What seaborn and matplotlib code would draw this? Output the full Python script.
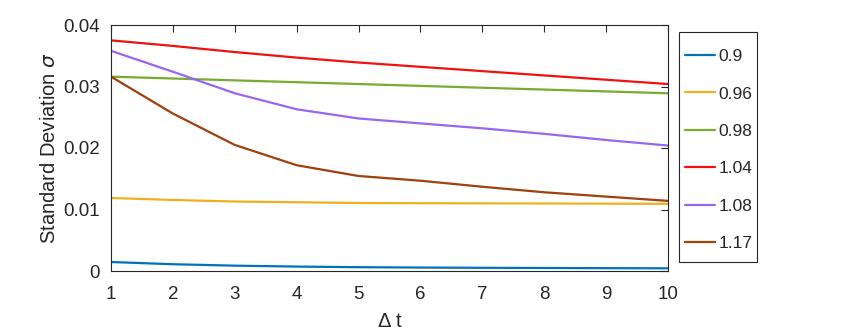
import numpy as np
import pandas as pd
import matplotlib
matplotlib.use('Agg')
import matplotlib.pyplot as plt
from matplotlib.patches import Rectangle
import seaborn as sns

# Data
dt = [1, 2, 3, 4, 5, 6, 7, 8, 9, 10]
labels = ['0.9', '0.96', '0.98', '1.04', '1.08', '1.17']
s_090 = [0.00146, 0.00110, 0.00087, 0.00072, 0.00062, 0.00056, 0.00052, 0.00049, 0.00046, 0.00044]
s_096 = [0.01187, 0.01155, 0.01130, 0.01118, 0.01106, 0.01102, 0.01100, 0.01098, 0.01095, 0.01092]
s_098 = [0.0316, 0.0313, 0.0310, 0.0307, 0.0304, 0.0301, 0.0298, 0.0295, 0.0292, 0.0289]
s_104 = [0.0375, 0.0366, 0.0356, 0.0347, 0.0339, 0.0332, 0.0325, 0.0318, 0.0311, 0.0304]
s_108 = [0.0358, 0.0324, 0.0289, 0.0263, 0.0248, 0.0240, 0.0232, 0.0223, 0.0213, 0.0204]
s_117 = [0.0316, 0.0256, 0.0205, 0.0172, 0.01545, 0.01468, 0.0137, 0.0128, 0.0121, 0.0114]
colors = ['#0072BD', '#EDB120', '#77AC30', '#F01010', '#9966F0', '#A0400C']

series = [s_090, s_096, s_098, s_104, s_108, s_117]
df = pd.DataFrame({
    'dt': dt * len(labels),
    'sigma': np.concatenate(series),
    'label': np.repeat(labels, len(dt)),
})

sns.set_style('white')
plt.rcParams['font.family'] = ['Liberation Sans', 'DejaVu Sans']
ink = '#262626'

fig = plt.figure(figsize=(8.44, 3.36), dpi=100)
ax = fig.add_axes([111 / 844, 1 - 271 / 336, (668 - 111) / 844, (271 - 25) / 336])

sns.lineplot(data=df, x='dt', y='sigma', hue='label', hue_order=labels,
             palette=colors, linewidth=1.6, ax=ax, legend=False)

ax.set_xlim(1, 10)
ax.set_ylim(0, 0.04)
ax.set_xticks(range(1, 11))
ax.set_yticks([0, 0.01, 0.02, 0.03, 0.04])
ax.set_yticklabels(['0', '0.01', '0.02', '0.03', '0.04'])
ax.tick_params(direction='in', length=5, width=0.8, top=True, right=True,
               labelsize=13.5, colors=ink)
ax.tick_params(axis='x', pad=11)
ax.tick_params(axis='y', pad=8)
for sp in ax.spines.values():
    sp.set_visible(True)
    sp.set_color(ink)
    sp.set_linewidth(0.8)

ax.set_xlabel('Δ t', fontsize=14.5, color=ink)
ax.set_ylabel(r'Standard Deviation $\sigma$', fontsize=14.5, color=ink)
ax.xaxis.set_label_coords(0.5, -0.165)
ax.yaxis.set_label_coords(-0.093, 0.5)

# legend box drawn separately, entries placed inside it
fig.patches.append(Rectangle((679 / 844, 1 - 262 / 336), 78 / 844, 230 / 336,
                             transform=fig.transFigure, fill=True, facecolor='white',
                             edgecolor=ink, linewidth=0.8, zorder=5))
handles = ax.get_lines()[:len(labels)]
leg = fig.legend(handles, labels, loc='upper left',
                 bbox_to_anchor=(685 / 844, 1 - 49 / 336),
                 fontsize=12.5, frameon=False, labelspacing=1.28, handlelength=1.75,
                 handletextpad=0.2, borderpad=0, borderaxespad=0)
leg.set_zorder(6)
for t in leg.get_texts():
    t.set_color(ink)

fig.savefig('out.png', dpi=100)
